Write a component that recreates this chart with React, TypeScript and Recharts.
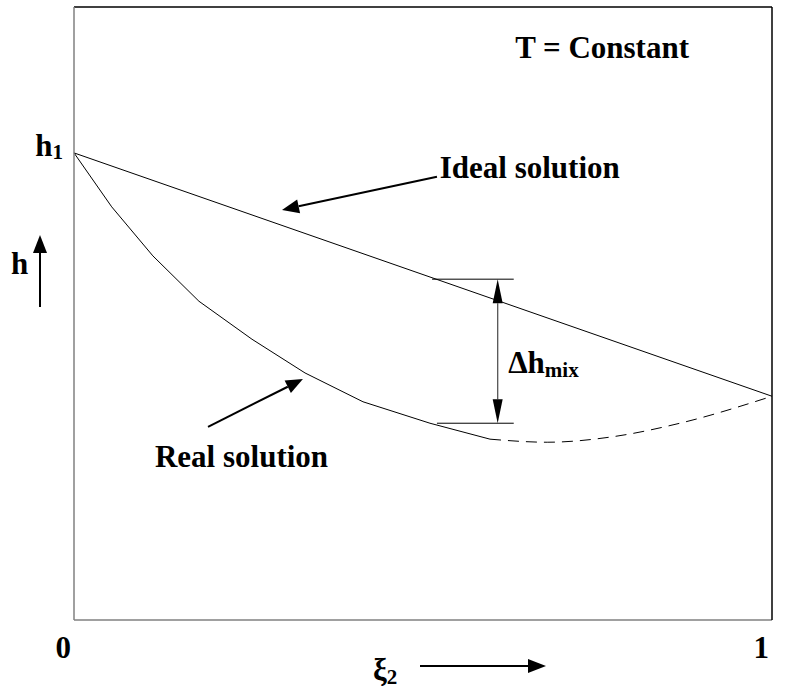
import React from 'react';
import {
  ComposedChart,
  Line,
  XAxis,
  YAxis,
  ReferenceLine,
  ReferenceDot,
} from 'recharts';

/* ------------------------- data ----------------------------------------- */
// x = mole fraction ξ2 (0..1), h = enthalpy in frame units (0 bottom .. 100 top)
const xTicks = [0, 1];
const H1 = 76.2;
const H2 = 36.5;

const idealLine = [
  { x: 0, h: H1 },
  { x: 1, h: H2 },
];

const realSolid = [
  { x: 0, h: 76.2 },
  { x: 0.054, h: 67.4 },
  { x: 0.113, h: 59.4 },
  { x: 0.179, h: 52.0 },
  { x: 0.255, h: 45.8 },
  { x: 0.331, h: 40.3 },
  { x: 0.414, h: 35.6 },
  { x: 0.51, h: 32.1 },
  { x: 0.596, h: 29.5 },
];

const realDashed = [
  { x: 0.596, h: 29.5 },
  { x: 0.678, h: 29.0 },
  { x: 0.772, h: 29.9 },
  { x: 0.868, h: 32.1 },
  { x: 1, h: H2 },
];

// annotation arrows / dimension marks (data coords)
const idealArrow = [
  { x: 0.52, y: 72.3 },
  { x: 0.298, y: 66.9 },
];
const realArrow = [
  { x: 0.192, y: 31.5 },
  { x: 0.328, y: 39.3 },
];
const mixArrow = [
  { x: 0.607, y: 55.6 },
  { x: 0.607, y: 32.1 },
];
const mixTickTop = [
  { x: 0.513, y: 55.6 },
  { x: 0.63, y: 55.6 },
];
const mixTickBottom = [
  { x: 0.52, y: 32.1 },
  { x: 0.63, y: 32.1 },
];

const textLabels = [
  { x: 0.632, h: 91.7, text: 'T = Constant' },
  { x: 0.524, h: 72.1, text: 'Ideal solution' },
  { x: 0.116, h: 25.0, text: 'Real solution' },
];
const mixLabel = { x: 0.622, h: 40.3 };

/* ------------------------- helpers -------------------------------------- */
const FS = 31;
const txt = { fontFamily: 'Liberation Serif', fontWeight: 700 } as React.CSSProperties;

const head = (x1: number, y1: number, x2: number, y2: number, len: number, half: number) => {
  const a = Math.atan2(y2 - y1, x2 - x1);
  const bx = x2 - len * Math.cos(a);
  const by = y2 - len * Math.sin(a);
  const nx = -Math.sin(a) * half;
  const ny = Math.cos(a) * half;
  return {
    base: [bx, by],
    pts: `${x2},${y2} ${bx + nx},${by + ny} ${bx - nx},${by - ny}`,
  };
};

const arrowShape = (width: number) => (p: any) => {
  const { x1, y1, x2, y2 } = p;
  const hd = head(x1, y1, x2, y2, 17, 7);
  return (
    <g>
      <line x1={x1} y1={y1} x2={hd.base[0]} y2={hd.base[1]} stroke="#000" strokeWidth={width} />
      <polygon points={hd.pts} fill="#000" />
    </g>
  );
};

const doubleArrowShape = (p: any) => {
  const { x1, y1, x2, y2 } = p;
  const a = head(x2, y2, x1, y1, 24, 5);
  const b = head(x1, y1, x2, y2, 24, 5);
  return (
    <g>
      <line x1={a.base[0]} y1={a.base[1]} x2={b.base[0]} y2={b.base[1]} stroke="#555" strokeWidth={1.3} />
      <polygon points={a.pts} fill="#000" />
      <polygon points={b.pts} fill="#000" />
    </g>
  );
};

const plainText = (text: string) => (p: any) => (
  <text x={p.cx} y={p.cy} style={txt} fontSize={FS} fill="#000">
    {text}
  </text>
);

const mixText = (p: any) => (
  <text x={p.cx} y={p.cy} style={txt} fontSize={FS} fill="#000">
    Δh
    <tspan fontSize={21} dy={4}>mix</tspan>
  </text>
);

/* axis ticks & labels */
const xTick = (p: any) => (
  <text x={p.x - 3} y={658} textAnchor="end" style={txt} fontSize={FS} fill="#000">
    {p.payload.value}
  </text>
);

const h1Tick = (p: any) => (
  <text x={63} y={p.y + 3} textAnchor="end" style={txt} fontSize={FS} fill="#000">
    h<tspan fontSize={21} dy={3}>1</tspan>
  </text>
);

const h2Tick = (p: any) => (
  <text x={779} y={p.y + 1} textAnchor="start" style={txt} fontSize={FS} fill="#000">
    h<tspan fontSize={21} dy={3}>2</tspan>
  </text>
);

const hLabel = () => {
  const hd = head(40, 307, 40, 235, 18, 7);
  return (
    <g>
      <text x={11} y={274} style={txt} fontSize={FS} fill="#000">h</text>
      <line x1={40} y1={307} x2={40} y2={hd.base[1]} stroke="#000" strokeWidth={2} />
      <polygon points={hd.pts} fill="#000" />
    </g>
  );
};

const xiLabel = () => {
  const hd = head(420, 666, 546, 666, 18, 7);
  return (
    <g>
      <text x={373} y={680} style={txt} fontSize={FS} fill="#000">
        ξ<tspan fontSize={21} dy={4}>2</tspan>
      </text>
      <line x1={420} y1={666} x2={hd.base[0]} y2={666} stroke="#000" strokeWidth={2} />
      <polygon points={hd.pts} fill="#000" />
    </g>
  );
};

/* ------------------------- component ------------------------------------ */
export default function App() {
  return (
    <div style={{ position: 'absolute', left: 0, top: 0, background: '#fff' }}>
      <ComposedChart
        width={810}
        height={693}
        margin={{ top: 7, right: 0, bottom: 0, left: 0 }}
      >
        <XAxis
          type="number"
          dataKey="x"
          domain={[0, 1]}
          ticks={xTicks}
          height={73}
          axisLine={{ stroke: '#808080', strokeWidth: 1.5 }}
          tickLine={false}
          tick={xTick}
          label={xiLabel}
        />
        <YAxis
          yAxisId="l"
          type="number"
          domain={[0, 100]}
          ticks={[H1]}
          width={74}
          axisLine={{ stroke: '#808080', strokeWidth: 1.5 }}
          tickLine={false}
          tick={h1Tick}
          label={hLabel}
        />
        <YAxis
          yAxisId="r"
          orientation="right"
          type="number"
          domain={[0, 100]}
          ticks={[H2]}
          width={38}
          axisLine={{ stroke: '#000', strokeWidth: 1.5 }}
          tickLine={false}
          tick={h2Tick}
        />

        <ReferenceLine yAxisId="l" y={100} stroke="#000" strokeWidth={1.5} />

        <Line
          yAxisId="l"
          data={idealLine}
          dataKey="h"
          type="linear"
          stroke="#000"
          strokeWidth={1}
          dot={false}
          activeDot={false}
          isAnimationActive={false}
        />
        <Line
          yAxisId="l"
          data={realSolid}
          dataKey="h"
          type="linear"
          stroke="#000"
          strokeWidth={1}
          dot={false}
          activeDot={false}
          isAnimationActive={false}
        />
        <Line
          yAxisId="l"
          data={realDashed}
          dataKey="h"
          type="monotone"
          stroke="#000"
          strokeWidth={1}
          strokeDasharray="11 7"
          dot={false}
          activeDot={false}
          isAnimationActive={false}
        />

        <ReferenceLine yAxisId="l" segment={mixTickTop} stroke="#000" strokeWidth={1} />
        <ReferenceLine yAxisId="l" segment={mixTickBottom} stroke="#000" strokeWidth={1} />
        <ReferenceLine yAxisId="l" segment={mixArrow} shape={doubleArrowShape} />
        <ReferenceLine yAxisId="l" segment={idealArrow} shape={arrowShape(2)} />
        <ReferenceLine yAxisId="l" segment={realArrow} shape={arrowShape(2)} />

        {textLabels.map((t) => (
          <ReferenceDot
            key={t.text}
            yAxisId="l"
            x={t.x}
            y={t.h}
            r={0}
            ifOverflow="visible"
            shape={plainText(t.text)}
          />
        ))}
        <ReferenceDot
          yAxisId="l"
          x={mixLabel.x}
          y={mixLabel.h}
          r={0}
          ifOverflow="visible"
          shape={mixText}
        />
      </ComposedChart>
    </div>
  );
}
